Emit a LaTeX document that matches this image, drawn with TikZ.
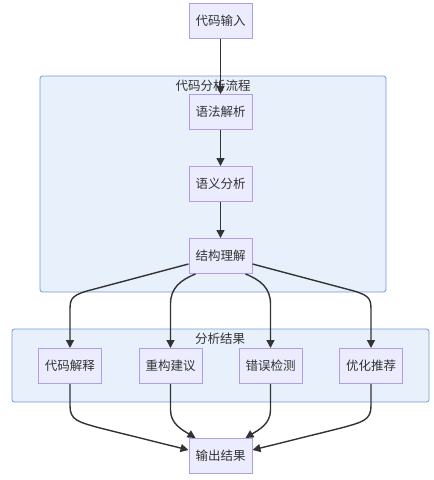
\documentclass[tikz,border=0pt]{standalone}
\usepackage{fontspec}
\setmainfont{Noto Sans CJK SC}
\usetikzlibrary{arrows.meta,calc}
\definecolor{nodefill}{HTML}{ECECFF}
\definecolor{nodeline}{HTML}{B09EEA}
\definecolor{clfill}{HTML}{E8F0FC}
\definecolor{clline}{HTML}{6E9BD6}
\definecolor{txt}{HTML}{333333}
\definecolor{edge}{HTML}{333333}
\tikzset{
  box/.style={draw=nodeline, fill=nodefill, line width=1pt, minimum width=63pt, minimum height=35pt, inner sep=0pt, text=txt, font=\fontsize{12.5}{14}\selectfont},
  cluster/.style={draw=clline, fill=clfill, line width=0.8pt, rounded corners=2.5pt},
  ctitle/.style={text=txt, font=\fontsize{12.5}{14}\selectfont, inner sep=0pt},
  conn/.style={draw=edge, line width=1.4pt, -{Triangle[length=8pt,width=8pt]}}
}
\begin{document}
\begin{tikzpicture}[x=1pt,y=-1pt]
\useasboundingbox (0,0) rectangle (434,480);
% clusters
\draw[cluster] (40,76) rectangle (386,292);
\node[ctitle] (c1t) at (213,86) {代码分析流程};
\draw[cluster] (12,329) rectangle (429,402);
\node[ctitle] (c2t) at (220,339) {分析结果};
% nodes
\node[box] (in) at (220.5,21) {代码输入};
\node[box] (a1) at (220.5,112) {语法解析};
\node[box] (a2) at (220.5,184) {语义分析};
\node[box] (a3) at (220.5,256) {结构理解};
\node[box] (r1) at (70,366) {代码解释};
\node[box] (r2) at (170.5,366) {重构建议};
\node[box] (r3) at (270.5,366) {错误检测};
\node[box] (r4) at (371,366) {优化推荐};
\node[box] (out) at (220.5,456) {输出结果};
% edges
\draw[conn] (in) -- (a1);
\draw[conn] (a1) -- (a2);
\draw[conn] (a2) -- (a3);
\draw[conn] ($(a3.west)+(0,8)$) -- ($(r1.north)+(17,-57)$) .. controls ($(r1.north)+(0,-52)$) and ($(r1.north)+(0,-48)$) .. ($(r1.north)+(0,-36)$) -- (r1.north);
\draw[conn] ($(a3.south)+(-25,0)$) .. controls ($(r2.north)+(10,-68)$) and ($(r2.north)+(0,-60)$) .. ($(r2.north)+(0,-44)$) -- (r2.north);
\draw[conn] ($(a3.south)+(25,0)$) .. controls ($(r3.north)+(-10,-68)$) and ($(r3.north)+(0,-60)$) .. ($(r3.north)+(0,-44)$) -- (r3.north);
\draw[conn] ($(a3.east)+(0,8)$) -- ($(r4.north)+(-17,-57)$) .. controls ($(r4.north)+(0,-52)$) and ($(r4.north)+(0,-48)$) .. ($(r4.north)+(0,-36)$) -- (r4.north);
\draw[conn] (r1.south) -- ($(r1.south)+(0,22)$) .. controls ($(r1.south)+(0,36)$) and ($(r1.south)+(8,38)$) .. ($(r1.south)+(30,44)$) -- ($(out.west)+(0,-6)$);
\draw[conn] (r2.south) -- ($(r2.south)+(0,26)$) .. controls ($(r2.south)+(0,40)$) and ($(r2.south)+(12,46)$) .. ($(out.north)+(-25,0)$);
\draw[conn] (r3.south) -- ($(r3.south)+(0,26)$) .. controls ($(r3.south)+(0,40)$) and ($(r3.south)+(-12,46)$) .. ($(out.north)+(25,0)$);
\draw[conn] (r4.south) -- ($(r4.south)+(0,22)$) .. controls ($(r4.south)+(0,36)$) and ($(r4.south)+(-8,38)$) .. ($(r4.south)+(-30,44)$) -- ($(out.east)+(0,-6)$);
\end{tikzpicture}
\end{document}
